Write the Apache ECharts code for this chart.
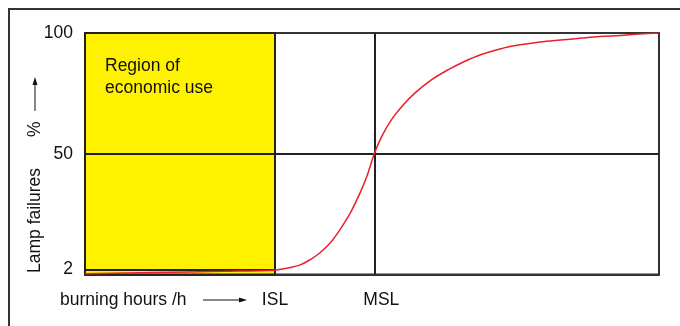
<!DOCTYPE html>
<html>
<head>
<meta charset="UTF-8">
<style>
html, body { margin: 0; padding: 0; background: #fff; }
#chart { width: 680px; height: 326px; }
</style>
</head>
<body>
<div id="chart"></div>
<script src="https://cdn.jsdelivr.net/npm/echarts@6/dist/echarts.min.js"></script>
<script>
// burning hours (0..100 = width of plot) and lamp failures in %
var hours = [0, 12, 24, 33.1, 35, 37.5, 39.2, 40.9, 42.7, 44.4, 46.2, 47.9, 49.1, 50.4, 51.7, 53.4, 55.2, 57.5, 60.4, 63.3, 66.2, 68.8, 72.3, 75.8, 79.3, 82.8, 86.2, 89.7, 93.2, 96.7, 100];
var failures = [0.3, 0.8, 1.3, 1.8, 2.5, 4.0, 6.1, 8.9, 13.0, 18.5, 25.4, 33.7, 40.6, 50, 57.2, 64.1, 69.6, 75.2, 80.7, 84.8, 88.3, 90.9, 93.4, 95.1, 96.3, 97.1, 97.8, 98.5, 99.0, 99.6, 100];
var yTicks = [2, 50, 100];
var xMarkNames = ['ISL', 'MSL'];
var xMarkPos = [33.1, 50.4];

var font = 'Liberation Sans';
var fs = 17.5;
var ink = '#111';
var ISL = xMarkPos[0], MSL = xMarkPos[1];

var chart = echarts.init(document.getElementById('chart'));

var curve = hours.map(function (h, i) { return [h, failures[i]]; });

var option = {
    animation: false,
    grid: { left: 85, top: 33, right: 21, bottom: 51.5, show: true, borderColor: '#333', borderWidth: 2 },
    xAxis: {
        type: 'value', min: 0, max: 100,
        axisLine: { lineStyle: { color: '#333', width: 2 } },
        axisTick: { show: false },
        splitLine: { show: false },
        axisLabel: {
            customValues: xMarkPos,
            formatter: function (v) {
                var i = xMarkPos.indexOf(v);
                if (i < 0) return '';
                return i == 1 ? '{m|' + xMarkNames[i] + '}' : xMarkNames[i];
            },
            rich: { m: { fontFamily: font, fontSize: fs, color: ink, padding: [0, 0, 0, 14] } },
            fontFamily: font, fontSize: fs, color: ink, margin: 17
        }
    },
    yAxis: {
        type: 'value', min: 0, max: 100,
        axisLine: { lineStyle: { color: '#333', width: 2 } },
        axisTick: { show: false },
        splitLine: { show: false },
        axisLabel: {
            customValues: yTicks,
            fontFamily: font, fontSize: fs, color: ink, margin: 12
        }
    },
    series: [
        {
            // yellow area and black guide lines
            type: 'line', data: [], z: 1, silent: true,
            markArea: {
                silent: true,
                itemStyle: { color: '#fff200', opacity: 1, borderColor: '#222', borderWidth: 2 },
                data: [[{ coord: [0, 0] }, { coord: [ISL, 100] }]]
            },
            markLine: {
                silent: true, symbol: 'none', z: 2,
                label: { show: false },
                lineStyle: { color: '#222', width: 2, type: 'solid' },
                data: [
                    { xAxis: ISL },
                    { xAxis: MSL },
                    { yAxis: 50 },
                    [{ coord: [0, yTicks[0]] }, { coord: [ISL, yTicks[0]] }]
                ]
            }
        },
        {
            type: 'line', data: curve, z: 10,
            smooth: 0.35,
            showSymbol: false,
            lineStyle: { color: '#e8202a', width: 1.5 }
        }
    ],
    graphic: [
        { type: 'rect', shape: { x: 9, y: 9, width: 700, height: 400 },
          style: { fill: 'none', stroke: '#333', lineWidth: 2 }, z: 100 },
        { type: 'text', x: 105, y: 66, z: 100,
          style: { text: 'Region of', font: fs + 'px ' + font, fill: ink, verticalAlign: 'middle' } },
        { type: 'text', x: 105, y: 88, z: 100,
          style: { text: 'economic use', font: fs + 'px ' + font, fill: ink, verticalAlign: 'middle' } },
        { type: 'text', x: 60, y: 300, z: 100,
          style: { text: 'burning hours /h', font: fs + 'px ' + font, fill: ink, verticalAlign: 'middle' } },
        { type: 'line', shape: { x1: 203, y1: 300, x2: 241, y2: 300 }, style: { stroke: ink, lineWidth: 1 }, z: 100 },
        { type: 'polygon', shape: { points: [[247, 300], [239, 297.5], [239, 302.5]] }, style: { fill: ink }, z: 100 },
        { type: 'text', x: 35, y: 273, rotation: Math.PI / 2, z: 100,
          style: { text: 'Lamp failures', font: fs + 'px ' + font, fill: ink, verticalAlign: 'middle', align: 'left' } },
        { type: 'text', x: 35, y: 137, rotation: Math.PI / 2, z: 100,
          style: { text: '%', font: fs + 'px ' + font, fill: ink, verticalAlign: 'middle', align: 'left' } },
        { type: 'line', shape: { x1: 35, y1: 111, x2: 35, y2: 84 }, style: { stroke: ink, lineWidth: 1 }, z: 100 },
        { type: 'polygon', shape: { points: [[35, 77], [32.5, 85], [37.5, 85]] }, style: { fill: ink }, z: 100 }
    ]
};

chart.setOption(option);
</script>
</body>
</html>
